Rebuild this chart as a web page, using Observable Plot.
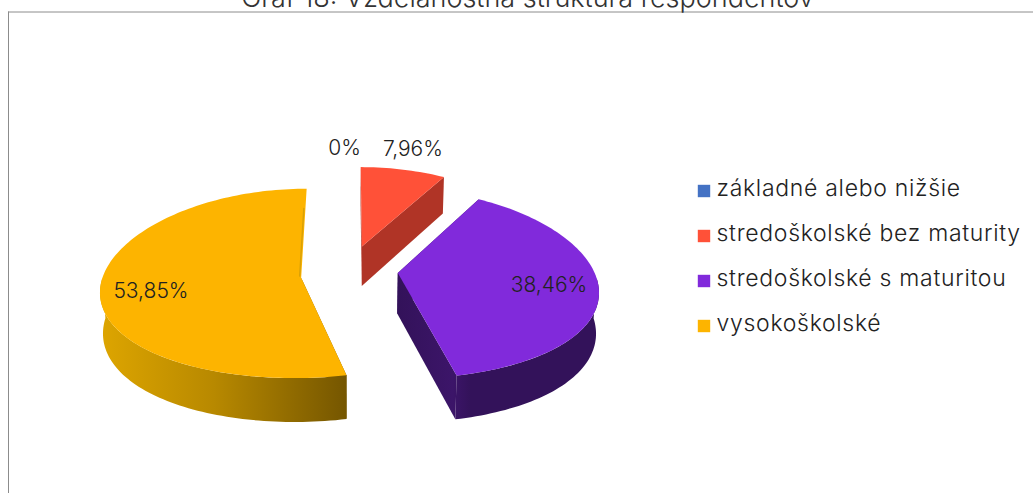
<!DOCTYPE html>
<html lang="sk">
<head>
<meta charset="utf-8">
<script src="https://cdn.jsdelivr.net/npm/d3@7"></script>
<script src="https://cdn.jsdelivr.net/npm/@observablehq/plot@0.6"></script>
<style>html,body{margin:0;padding:0;background:#fff;overflow:hidden}svg{display:block}.legend-text{letter-spacing:.7px}</style>
</head>
<body>
<div id="chart"></div>
<script>
const title = "Graf 18: Vzdelanostná štruktúra respondentov";
const categories = ["základné alebo nižšie", "stredoškolské bez maturity", "stredoškolské s maturitou", "vysokoškolské"];
const values = [0, 7.96, 38.46, 53.85];
const labels = ["0%", "7,96%", "38,46%", "53,85%"];
const colors = ["#4472c4", "#ff5138", "#812adb", "#fdb400"];
const wallColors = ["#2a4478", "#b03426", "url(#wallPurple)", "url(#wallAmber)"];

// 3D projection of the exploded pie
const W = 1033, H = 493;
const cx = 350, cy = 274.5, rx = 198, ry = 94, kx = 0.125, ky = 0.06;
const explode = [0.24, 0.24, 0.24, 0.25];
const apexLift = [0, 7, 5, 0];
const labelRadius = [1.3, 1.3, 0.75, 0.75];
const labelDx = [-6, -1, 1, 0];
const labelDy = [6, 3, -2, 5];
const font = "Inter, 'Open Sans', sans-serif";

const px = (U, V) => cx + rx * U / (1 + kx * V);
const py = (V) => cy - ry * V / (1 + ky * V);
const depth = (V) => 40.3 - 3.5 * V;
const bx = (x) => cx + (x - cx) * 0.988;

const total = d3.sum(values);
let acc = 0;
const slices = values.map((v, i) => {
  const a0 = acc / total * 2 * Math.PI; acc += v;
  const a1 = acc / total * 2 * Math.PI;
  const mid = (a0 + a1) / 2;
  return {i, v, a0, a1, mid, U0: explode[i] * Math.sin(mid), V0: explode[i] * Math.cos(mid)};
});

function rim(s, a) {
  const U = s.U0 + Math.sin(a), V = s.V0 + Math.cos(a);
  return {x: px(U, V), y: py(V), V};
}
function arc(s, a0 = s.a0, a1 = s.a1) {
  const n = Math.max(2, Math.ceil((a1 - a0) * 40));
  return d3.range(n + 1).map(j => rim(s, a0 + (a1 - a0) * j / n));
}
const apex = (s) => ({x: px(s.U0, s.V0), y: py(s.V0) - apexLift[s.i], V: s.V0});
const drop = (p) => ({x: bx(p.x), y: p.y + depth(p.V)});
const clampAngle = (s, a) => Math.max(s.a0, Math.min(s.a1, a));

const polys = [];
function add(points, fill, key) { points.forEach(p => polys.push({x: p.x, y: p.y, fill, key})); }

const visible = slices.filter(s => s.v > 0);
const last = visible[visible.length - 1];
visible.forEach(s => {
  const A = apex(s);
  const wall = wallColors[s.i];
  const e1 = rim(s, s.a1), e0 = rim(s, s.a0);
  if (s !== last) add([A, e1, drop(e1), drop(A)], wall, `r1${s.i}`);
  add([A, e0, drop(e0), drop(A)], wall, `r0${s.i}`);
  const f0 = clampAngle(s, Math.PI / 2), f1 = clampAngle(s, Math.PI * 3 / 2);
  if (f1 > f0) {
    const a = arc(s, f0, f1);
    add([...a, ...a.slice().reverse().map(drop)], wall, `o${s.i}`);
  }
  add([A, ...arc(s), A], colors[s.i], `t${s.i}`);
});

// thin sliver of the inner wall visible along the last slice's straight edge
const lastA = apex(last), lastE = rim(last, last.a1);
const sliver = [0.02, 0.4, 0.78].map(t => ({x: lastA.x + (lastE.x - lastA.x) * t - 1.6, y: lastA.y + (lastE.y - lastA.y) * t}));

const labelData = slices.map(s => {
  const U = s.U0 + labelRadius[s.i] * Math.sin(s.mid), V = s.V0 + labelRadius[s.i] * Math.cos(s.mid);
  return {x: px(U, V) + labelDx[s.i], y: py(V) + labelDy[s.i], text: labels[s.i]};
});

const legendRows = categories.map((c, i) => ({c, color: colors[i], y: 190.5 + i * 45}));

const defs = () => {
  const d = d3.create("svg:defs");
  const g = d.append("linearGradient").attr("id", "wallAmber").attr("gradientUnits", "userSpaceOnUse")
    .attr("x1", 104).attr("x2", 346).attr("y1", 0).attr("y2", 0);
  [[0, "#dca400"], [0.45, "#b88900"], [1, "#755600"]].forEach(([o, c]) => g.append("stop").attr("offset", o).attr("stop-color", c));
  const p = d.append("linearGradient").attr("id", "wallPurple").attr("gradientUnits", "userSpaceOnUse")
    .attr("x1", 398).attr("x2", 470).attr("y1", 0).attr("y2", 0);
  [[0, "#33125a"], [0.75, "#3c1569"], [1, "#33125a"]].forEach(([o, c]) => p.append("stop").attr("offset", o).attr("stop-color", c));
  return d.node();
};

const plot = Plot.plot({
  width: W, height: H, margin: 0,
  x: {domain: [0, W], range: [0, W], axis: null},
  y: {domain: [0, H], range: [0, H], axis: null},
  color: {type: "identity"},
  style: {background: "#fff", fontFamily: font},
  marks: [
    defs,
    Plot.ruleY([11.5], {x1: 8, x2: W, stroke: "#8c8c8c", strokeWidth: 1}),
    Plot.ruleX([8], {y1: 11.5, y2: H, stroke: "#8c8c8c", strokeWidth: 1}),
    Plot.text([title], {x: () => 527, y: () => -2, text: d => d, fontSize: 27, fontWeight: 300, fill: "#333", textAnchor: "middle"}),
    Plot.line(polys, {x: "x", y: "y", z: "key", fill: "fill", stroke: "none", curve: "linear"}),
    Plot.line(sliver, {x: "x", y: "y", stroke: "#d9a106", strokeWidth: 1.4}),
    Plot.text(labelData, {x: "x", y: "y", text: "text", fontSize: 21, fontWeight: 300, fill: "#222", textAnchor: "middle"}),
    Plot.dot(legendRows, {x: () => 703.5, y: "y", symbol: "square", r: 7, fill: "color", stroke: "none"}),
    Plot.text(legendRows, {x: () => 716, y: d => d.y - 2, text: "c", fontSize: 23, fontWeight: 300, fill: "#222", textAnchor: "start", className: "legend-text"})
  ]
});
document.getElementById("chart").append(plot);
</script>
</body>
</html>
